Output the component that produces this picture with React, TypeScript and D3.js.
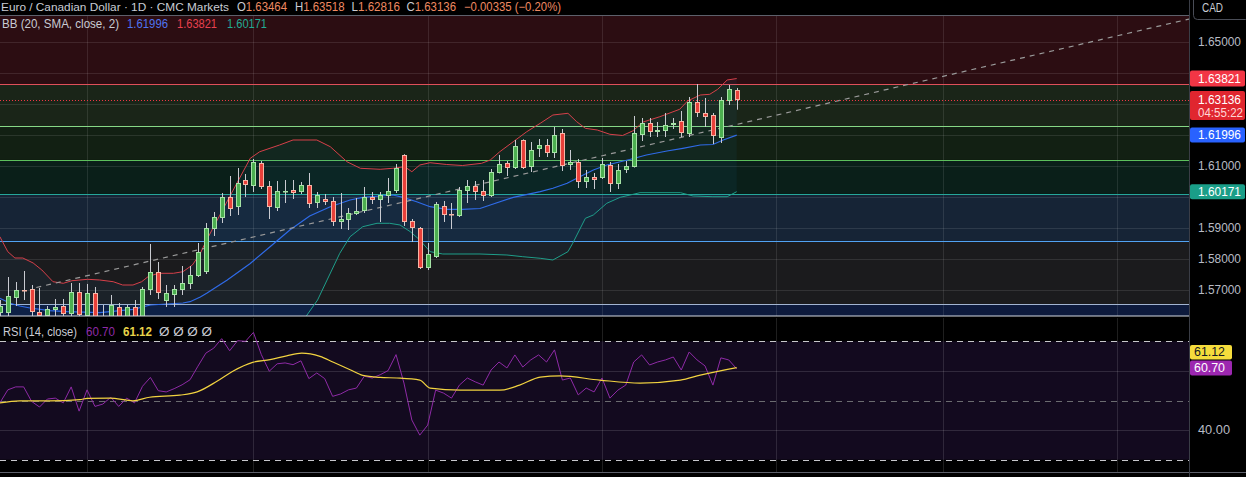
import React from 'react';
import * as d3 from 'd3';

// ---------- DATA ----------
const opens = [1.56258,1.56258,1.56742,1.57000,1.57032,1.56290,1.56161,1.56355,1.56484,1.56226,1.56935,1.56161,1.56903,1.56120,1.56129,1.56452,1.56129,1.56452,1.56129,1.57000,1.57581,1.56645,1.56839,1.57000,1.57194,1.57452,1.57581,1.58968,1.59323,1.60000,1.59677,1.60548,1.60355,1.61097,1.60355,1.59645,1.60194,1.60226,1.60161,1.60387,1.59806,1.59935,1.59871,1.59194,1.59258,1.59452,1.59548,1.60000,1.59903,1.60032,1.60194,1.61355,1.59226,1.59000,1.57710,1.58065,1.59710,1.59452,1.59387,1.60194,1.60355,1.60194,1.60032,1.60774,1.61097,1.60935,1.61839,1.60968,1.61548,1.61677,1.61419,1.62065,1.61032,1.61129,1.60484,1.60645,1.60613,1.61032,1.60419,1.60871,1.60968,1.62000,1.62387,1.62097,1.62129,1.62323,1.62452,1.62032,1.63065,1.62710,1.62645,1.61903,1.63097,1.63464];
const highs = [1.56677,1.57419,1.57258,1.57613,1.57161,1.57065,1.56484,1.56710,1.56710,1.57226,1.57226,1.57194,1.57097,1.56516,1.56839,1.56581,1.56516,1.56677,1.57097,1.58484,1.57903,1.57161,1.57161,1.57774,1.57774,1.58516,1.59161,1.59516,1.60129,1.60677,1.60935,1.60742,1.61226,1.61161,1.60516,1.60516,1.60548,1.60548,1.60484,1.60774,1.60161,1.60097,1.60000,1.60129,1.59645,1.59968,1.60323,1.60161,1.60161,1.60613,1.61065,1.61380,1.59290,1.59032,1.58516,1.59839,1.59871,1.59806,1.60323,1.60548,1.60516,1.60548,1.60903,1.61355,1.61161,1.61839,1.61860,1.61774,1.61871,1.61871,1.62258,1.62194,1.61516,1.61226,1.60871,1.60774,1.61258,1.61129,1.61065,1.61161,1.62613,1.62548,1.62548,1.62419,1.62710,1.62548,1.62774,1.63226,1.63645,1.63194,1.62710,1.63226,1.63613,1.63518];
const lows = [1.56097,1.56129,1.56484,1.56677,1.56097,1.56065,1.56097,1.56161,1.56129,1.56129,1.56097,1.56097,1.56032,1.55980,1.56097,1.56065,1.56097,1.56065,1.56097,1.56839,1.56710,1.56452,1.56452,1.56839,1.57032,1.57419,1.57516,1.58742,1.59161,1.59387,1.59419,1.60000,1.60161,1.60258,1.59290,1.59548,1.59806,1.59935,1.60097,1.59645,1.59645,1.59742,1.59065,1.58968,1.58935,1.59419,1.59484,1.59774,1.59194,1.59806,1.60129,1.59065,1.58548,1.57677,1.57645,1.58032,1.59194,1.58968,1.59355,1.59806,1.59903,1.59871,1.60000,1.60760,1.60677,1.60903,1.60903,1.60806,1.61290,1.61290,1.61258,1.60839,1.60871,1.60290,1.60290,1.60258,1.60581,1.60161,1.60258,1.60774,1.60950,1.61806,1.61935,1.61935,1.61935,1.62194,1.61935,1.61935,1.62581,1.62258,1.61710,1.61742,1.62968,1.62816];
const closes = [1.56484,1.56806,1.57000,1.56968,1.56290,1.56161,1.56387,1.56452,1.56226,1.56935,1.56194,1.56903,1.56129,1.56050,1.56516,1.56129,1.56452,1.56129,1.57032,1.57581,1.56903,1.56903,1.57032,1.57226,1.57484,1.58226,1.59000,1.59355,1.60000,1.59613,1.60452,1.60387,1.61129,1.60323,1.59677,1.60194,1.60200,1.60129,1.60387,1.59774,1.60065,1.59839,1.59194,1.59290,1.59484,1.59548,1.60000,1.59903,1.60065,1.60194,1.60935,1.59194,1.59000,1.57710,1.58161,1.59774,1.59419,1.59440,1.60226,1.60355,1.60161,1.60032,1.60806,1.61065,1.60935,1.61645,1.60935,1.61516,1.61677,1.61419,1.62000,1.61000,1.61129,1.60484,1.60645,1.60548,1.61065,1.60419,1.60871,1.61000,1.62065,1.62387,1.62097,1.62161,1.62323,1.62387,1.62065,1.63065,1.62710,1.62581,1.61968,1.63129,1.63484,1.63136];

// Bollinger bands, [candle index, price]
const bbUpper = [[0,1.58719],[1,1.58235],[1.9,1.58032],[2.9,1.58032],[4.2,1.57871],[5.3,1.57645],[6.7,1.57268],[8,1.57216],[9.1,1.573],[11.1,1.57345],[12.6,1.57323],[14.3,1.57268],[15.5,1.57161],[16.8,1.57161],[17.9,1.57268],[18.7,1.57429],[20,1.57539],[21.9,1.57539],[23.1,1.5759],[24.3,1.57806],[25.3,1.58184],[26.1,1.58613],[29,1.6001],[31.6,1.61248],[32.8,1.61461],[35.3,1.61677],[37,1.61839],[40,1.61839],[41.7,1.61623],[43.8,1.61139],[45.5,1.60926],[48,1.60894],[49.6,1.60926],[51.1,1.60977],[52,1.60816],[53,1.61032],[54.3,1.61106],[56.4,1.61048],[58.4,1.61016],[60.8,1.61087],[61.9,1.61194],[63.1,1.61461],[64.8,1.61784],[66.5,1.62106],[68.2,1.62377],[69.8,1.62645],[71.7,1.627],[72.8,1.62429],[73.9,1.62216],[75.4,1.62161],[77,1.62023],[78.6,1.61984],[79.9,1.62135],[81.2,1.62419],[83.3,1.6259],[85.8,1.62829],[86.8,1.63097],[88.4,1.6329],[89.6,1.63313],[90.6,1.63474],[91.8,1.63774],[93,1.63821]];
const bbMiddle = [[0,1.56732],[1.3,1.56571],[2.5,1.56484],[3.8,1.56419],[6.3,1.56332],[8.5,1.563],[12.6,1.56268],[16.8,1.56377],[19,1.56516],[21.1,1.56548],[23.1,1.56581],[24,1.56623],[25.3,1.56774],[26.1,1.56894],[28.7,1.57323],[31.6,1.57855],[34.1,1.58397],[36.6,1.58935],[39.1,1.59387],[41.7,1.59687],[44.2,1.59903],[45.8,1.5999],[48,1.60032],[49.6,1.60065],[50.9,1.5999],[52.6,1.59848],[54.3,1.59687],[56.4,1.59603],[58.4,1.59603],[60.6,1.59629],[61.9,1.59742],[64.8,1.5999],[68.2,1.60171],[69.8,1.60281],[71.6,1.60442],[73.2,1.60655],[74.9,1.60871],[76.6,1.61032],[79.5,1.6121],[81.6,1.61355],[84.2,1.61484],[86.2,1.61571],[88.4,1.61677],[90,1.61694],[91.3,1.61839],[93,1.61996]];
const bbLower = [[38.5,1.56097],[40.1,1.56677],[41.3,1.57323],[42.9,1.58184],[44.2,1.58719],[45.8,1.59042],[47.6,1.59152],[49.2,1.59152],[50.5,1.59097],[51.8,1.58881],[53,1.58613],[54.3,1.58236],[55.9,1.58161],[60.6,1.58161],[64,1.58129],[66,1.58074],[68.2,1.58023],[69.8,1.57968],[71.7,1.58236],[72.3,1.58506],[73.9,1.59313],[74.9,1.59419],[76.6,1.59797],[78.3,1.5999],[80.8,1.60139],[85.9,1.60139],[87.5,1.60032],[90,1.6001],[91.8,1.6001],[93,1.60171]];

// RSI(14) per candle, and its moving average [candle index, value]
const rsiValues = [49.2,53.6,54.6,54.6,49.7,47.8,50.5,50.8,49.2,54.6,46.4,53.6,48.0,48.8,51.1,48.0,50.8,49.2,54.8,57.8,53.3,52.9,54.0,55.3,57.0,61.6,66.0,67.7,70.9,66.8,70.2,70.0,73.0,65.5,59.9,62.4,62.7,62.1,63.4,57.4,59.3,57.4,51.4,52.2,53.6,54.2,58.2,57.6,58.7,60.1,65.5,55.9,43.4,38.3,41.7,53.5,52.5,50.8,55.2,57.6,56.3,55.2,60.3,63.0,61.0,65.4,61.3,63.7,65.4,63.0,67.1,56.9,57.6,51.9,54.2,52.9,57.6,50.8,53.5,55.2,63.0,65.4,62.0,63.0,63.7,64.7,60.3,66.4,63.7,61.7,55.2,64.4,63.7,60.70];
const rsiMa = [[0,49.2],[2.5,49.9],[6.3,49.9],[10.1,50.3],[11,50.7],[13.9,50.8],[16.8,49.9],[18.9,51.1],[22.7,51.8],[24.9,52.9],[27.4,56.5],[29.4,59.9],[31.9,62.9],[34.1,63.8],[36.2,65.1],[38.1,66.0],[40.4,64.9],[42.1,62.9],[44.2,60.4],[45.8,58.5],[48,57.8],[50.1,57.6],[53,56.9],[54.3,54.2],[58.1,53.5],[63.1,53.5],[65.6,55.2],[68.2,57.9],[70.7,58.3],[75.7,56.9],[80.8,55.9],[85.9,56.9],[88.4,58.6],[93,61.12]];

const priceTicks = [1.57, 1.58, 1.59, 1.60, 1.61, 1.62, 1.63, 1.64, 1.65];
const rsiGrid = [60, 40];
const rsiBands = [70, 50, 30];
const rsiTickLabels = [40];
const monthStarts = [11, 32, 54, 76, 98, 119, 141];
// user-drawn zone boundaries (price levels)
const zoneLevels = [1.63645, 1.6229, 1.61194, 1.60097, 1.58581, 1.56548];
const trendLine = [[4.6, 1.5708], [150.1, 1.6574]];

const lastClose = 1.63136;
const bbLast = { basis: 1.61996, upper: 1.63821, lower: 1.60171 };
const rsiLast = 60.70, rsiMaLast = 61.12;

// ---------- COMPONENT ----------
export default function App() {
  const W = 1246, H = 477;
  const axisX = 1189;
  const mainTop = 16, mainBottom = 316;
  const rsiTop = 318, rsiBottom = 472;

  const x = d3.scaleLinear().domain([1, 93]).range([7.8, 736.7]);
  const y = d3.scaleLinear().domain([1.57, 1.65]).range([290, 42]);
  const ry = d3.scaleLinear().domain([30, 70]).range([459.7, 341.3]);

  const zoneFills = ['#2c0d12', '#1a2518', '#122013', '#0a1f19', '#162436', '#1b1b1d', '#0d1a3c'];
  const zoneLines = ['#e0505a', '#86d886', '#5cbf5c', '#26a69a', '#52a3f2', '#a3b4d0'];
  const bounds = [mainTop, ...zoneLevels.map(l => y(l)), mainBottom];

  const lineP = d3.line<number[]>().x(d => x(d[0])).y(d => y(d[1]));
  const bottomPrice = y.invert(mainBottom + 20);
  const fillPts = [
    ...bbUpper,
    ...bbLower.slice().reverse(),
    [bbLower[0][0], bottomPrice],
    [bbUpper[0][0] - 1, bottomPrice],
  ];
  const rsiLine = d3.line<number>().x((_, i) => x(i)).y(d => ry(d));
  const rsiMaLine = d3.line<number[]>().x(d => x(d[0])).y(d => ry(d[1])).curve(d3.curveMonotoneX);

  const font = "'Liberation Sans', Arial, sans-serif";
  const up = '#4caf50', upBorder = '#a6e3a6', dn = '#e8403a', dnBorder = '#f7b5a6';

  // axis tags (price-axis labels for the last values)
  const tags = [
    { yc: y(bbLast.upper), h: 16 },
    { yc: 105.5, h: 29 },
    { yc: y(bbLast.basis), h: 15 },
    { yc: y(bbLast.lower), h: 15 },
  ];
  const visibleTicks = priceTicks.filter(t => tags.every(g => Math.abs(y(t) - g.yc) > g.h / 2 + 6));

  const tag = (yc: number, h: number, fill: string) => (
    <rect x={axisX + 1} y={yc - h / 2} width={55} height={h} rx={2} fill={fill} />
  );

  return (
    <svg width={W} height={H} style={{ position: 'absolute', left: 0, top: 0, background: '#000' }} fontFamily={font}>
      <defs>
        <clipPath id="mainClip"><rect x={0} y={mainTop} width={axisX} height={mainBottom - mainTop} /></clipPath>
        <clipPath id="rsiClip"><rect x={0} y={rsiTop} width={axisX} height={rsiBottom - rsiTop} /></clipPath>
      </defs>
      <rect x={0} y={0} width={W} height={H} fill="#000" />

      {/* main pane */}
      <g clipPath="url(#mainClip)">
        {zoneFills.map((c, i) => (
          <rect key={'z' + i} x={0} y={bounds[i]} width={axisX} height={bounds[i + 1] - bounds[i]} fill={c} />
        ))}
        {priceTicks.map(t => (
          <line key={'g' + t} x1={0} x2={axisX} y1={Math.round(y(t)) + 0.5} y2={Math.round(y(t)) + 0.5} stroke="rgba(255,255,255,0.1)" />
        ))}
        {monthStarts.map(m => (
          <line key={'v' + m} x1={Math.round(x(m)) + 0.5} x2={Math.round(x(m)) + 0.5} y1={mainTop} y2={mainBottom} stroke="rgba(255,255,255,0.1)" />
        ))}
        {zoneLevels.map((l, i) => (
          <line key={'zl' + i} x1={0} x2={axisX} y1={Math.round(y(l)) + 0.5} y2={Math.round(y(l)) + 0.5} stroke={zoneLines[i]} strokeWidth={1} />
        ))}
        <path d={lineP(fillPts as number[][]) + 'Z'} fill="rgba(33,150,243,0.06)" />
        <path d={lineP(bbUpper as number[][]) || ''} fill="none" stroke="#d6404a" strokeWidth={1} />
        <path d={lineP(bbMiddle as number[][]) || ''} fill="none" stroke="#2f6be8" strokeWidth={1.2} />
        <path d={lineP(bbLower as number[][]) || ''} fill="none" stroke="#1f9e8a" strokeWidth={1} />
        <path d={lineP(trendLine as number[][]) || ''} fill="none" stroke="#9a9a9a" strokeWidth={1.2} strokeDasharray="5,5" />
        <line x1={0} x2={axisX} y1={Math.round(y(lastClose)) + 0.5} y2={Math.round(y(lastClose)) + 0.5} stroke="#f23645" strokeDasharray="1,2" />
        {opens.map((o, i) => {
          const c = closes[i];
          const cx = Math.round(x(i));
          const isUp = c >= o;
          const top = Math.round(y(Math.max(o, c)));
          const bot = Math.round(y(Math.min(o, c)));
          return (
            <g key={'c' + i}>
              <line x1={cx + 0.5} x2={cx + 0.5} y1={y(highs[i])} y2={y(lows[i])} stroke="#c9cbd1" />
              <rect x={cx - 1.5} y={top + 0.5} width={4} height={Math.max(bot - top - 1, 0.5)}
                fill={isUp ? up : dn} stroke={isUp ? upBorder : dnBorder} strokeWidth={1} />
            </g>
          );
        })}
      </g>
      <line x1={0} x2={axisX} y1={mainBottom} y2={mainBottom} stroke="#d6dae2" strokeWidth={1.2} />

      {/* header */}
      <rect x={0} y={0} width={axisX} height={15} fill="#000" />
      <line x1={0} x2={axisX} y1={15.5} y2={15.5} stroke="#5d606b" />
      <text x={1} y={10.5} fontSize={11.5} fill="#c9ccd4" textLength={228} lengthAdjust="spacingAndGlyphs">Euro / Canadian Dollar · 1D · CMC Markets</text>
      {[['O', '1.63464', 237, 50], ['H', '1.63518', 295, 49.5], ['L', '1.62816', 351.5, 48.5], ['C', '1.63136', 406.5, 49.5]].map(([k, v, px, w]) => (
        <text key={k as string} x={px as number} y={10.5} fontSize={12} textLength={w as number} lengthAdjust="spacingAndGlyphs">
          <tspan fill="#c9ccd4">{k}</tspan><tspan fill="#ef8a62">{v}</tspan>
        </text>
      ))}
      <text x={464} y={10.5} fontSize={12} fill="#ef8a62" textLength={97} lengthAdjust="spacingAndGlyphs">−0.00335 (−0.20%)</text>

      <text x={2} y={28} fontSize={12.5} fill="#c9ccd4" textLength={117} lengthAdjust="spacingAndGlyphs">BB (20, SMA, close, 2)</text>
      <text x={127} y={28} fontSize={12.5} fill="#4f74f0" textLength={41} lengthAdjust="spacingAndGlyphs">{bbLast.basis.toFixed(5)}</text>
      <text x={177} y={28} fontSize={12.5} fill="#e8414f" textLength={40} lengthAdjust="spacingAndGlyphs">{bbLast.upper.toFixed(5)}</text>
      <text x={227} y={28} fontSize={12.5} fill="#22ab94" textLength={40} lengthAdjust="spacingAndGlyphs">{bbLast.lower.toFixed(5)}</text>

      {/* RSI pane */}
      <g clipPath="url(#rsiClip)">
        <rect x={0} y={ry(70)} width={axisX} height={ry(30) - ry(70)} fill="#130a1f" />
        {rsiGrid.map(v => (
          <line key={'rg' + v} x1={0} x2={axisX} y1={Math.round(ry(v)) + 0.5} y2={Math.round(ry(v)) + 0.5} stroke="rgba(255,255,255,0.13)" />
        ))}
        {monthStarts.map(m => (
          <line key={'rv' + m} x1={Math.round(x(m)) + 0.5} x2={Math.round(x(m)) + 0.5} y1={rsiTop} y2={rsiBottom} stroke="rgba(255,255,255,0.12)" />
        ))}
        {rsiBands.map(v => (
          <line key={'rb' + v} x1={0} x2={axisX} y1={Math.round(ry(v)) + 0.5} y2={Math.round(ry(v)) + 0.5}
            stroke={v === 50 ? '#6b6b70' : '#c8c8cc'} strokeDasharray="6,5" />
        ))}
        <path d={rsiLine(rsiValues) || ''} fill="none" stroke="#8e2aa6" strokeWidth={1} />
        <path d={rsiMaLine(rsiMa as number[][]) || ''} fill="none" stroke="#f2d340" strokeWidth={1.2} />
      </g>
      <text x={3} y={336} fontSize={12.5} fill="#c9ccd4" textLength={74} lengthAdjust="spacingAndGlyphs">RSI (14, close)</text>
      <text x={86} y={336} fontSize={12.5} fill="#8e2aa6" textLength={29} lengthAdjust="spacingAndGlyphs">{rsiLast.toFixed(2)}</text>
      <text x={123} y={336} fontSize={12.5} fill="#e8d44a" fontWeight="bold" textLength={29} lengthAdjust="spacingAndGlyphs">{rsiMaLast.toFixed(2)}</text>
      <text x={159} y={336} fontSize={12.5} fill="#c9ccd4" textLength={53} lengthAdjust="spacingAndGlyphs">Ø  Ø  Ø  Ø</text>
      <line x1={0} x2={W} y1={rsiBottom + 0.5} y2={rsiBottom + 0.5} stroke="#5d606b" />

      {/* price axis */}
      <line x1={axisX + 0.5} x2={axisX + 0.5} y1={0} y2={H} stroke="#3a3d46" />
      {visibleTicks.map(t => (
        <text key={'pt' + t} x={1198} y={y(t)} dy="0.35em" fontSize={12} fill="#b8bbc4" textLength={43} lengthAdjust="spacingAndGlyphs">{t.toFixed(5)}</text>
      ))}
      {tag(tags[0].yc, tags[0].h, '#f23645')}
      <text x={1198} y={y(bbLast.upper)} dy="0.35em" fontSize={12} fill="#fff" textLength={43} lengthAdjust="spacingAndGlyphs">{bbLast.upper.toFixed(5)}</text>
      {tag(tags[1].yc, tags[1].h, '#e0262f')}
      <text x={1198} y={99.5} dy="0.35em" fontSize={12} fill="#fff" textLength={43} lengthAdjust="spacingAndGlyphs">{lastClose.toFixed(5)}</text>
      <text x={1198} y={113} dy="0.35em" fontSize={12} fill="#ffd6d6" textLength={45} lengthAdjust="spacingAndGlyphs">04:55:22</text>
      {tag(tags[2].yc, tags[2].h, '#2962ff')}
      <text x={1198} y={y(bbLast.basis)} dy="0.35em" fontSize={12} fill="#fff" textLength={43} lengthAdjust="spacingAndGlyphs">{bbLast.basis.toFixed(5)}</text>
      {tag(tags[3].yc, tags[3].h, '#1a9e88')}
      <text x={1198} y={y(bbLast.lower)} dy="0.35em" fontSize={12} fill="#fff" textLength={43} lengthAdjust="spacingAndGlyphs">{bbLast.lower.toFixed(5)}</text>
      <rect x={1193.5} y={-4} width={56} height={23.5} rx={4} fill="#000" stroke="#4a4d57" />
      <text x={1202} y={7.5} dy="0.35em" fontSize={12} fill="#c9ccd4" textLength={21} lengthAdjust="spacingAndGlyphs">CAD</text>

      {/* RSI axis */}
      {rsiTickLabels.map(v => (
        <text key={'rt' + v} x={1198} y={ry(v)} dy="0.35em" fontSize={12} fill="#b8bbc4" textLength={32} lengthAdjust="spacingAndGlyphs">{v.toFixed(2)}</text>
      ))}
      <rect x={axisX + 1} y={345} width={42} height={14.5} rx={2} fill="#f5dc3c" />
      <text x={1194} y={352.2} dy="0.35em" fontSize={12} fill="#131722" textLength={31} lengthAdjust="spacingAndGlyphs">{rsiMaLast.toFixed(2)}</text>
      <rect x={axisX + 1} y={360.5} width={42} height={15} rx={2} fill="#9c27b0" />
      <text x={1194} y={368} dy="0.35em" fontSize={12} fill="#fff" textLength={31} lengthAdjust="spacingAndGlyphs">{rsiLast.toFixed(2)}</text>
    </svg>
  );
}
